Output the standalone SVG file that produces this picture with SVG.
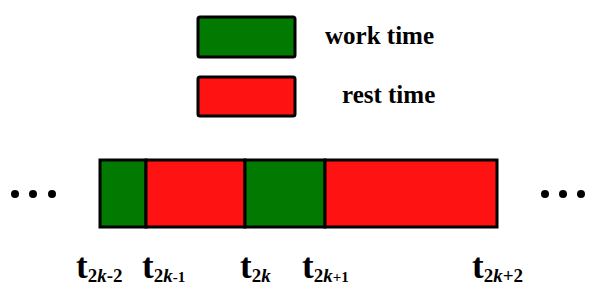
<svg xmlns="http://www.w3.org/2000/svg" width="608" height="297" viewBox="0 0 608 297">
<style>
.g{fill:#027A02;stroke:#000;stroke-width:3}
.r{fill:#FF1212;stroke:#000;stroke-width:3}
.lbl{font-family:"Liberation Serif","Times New Roman",serif;font-weight:bold;fill:#000}
.t{font-family:"Liberation Serif","Times New Roman",serif;font-weight:bold;font-size:35px;fill:#000}
.s{font-size:19px}
.d{fill:#000}
</style>
<rect width="608" height="297" fill="#fff"/>
<g id="legend-work">
<rect class="g" x="198" y="17" width="97" height="40" rx="2"/>
<text class="lbl" x="325" y="44" font-size="25">work time</text>
</g>
<g id="legend-rest">
<rect class="r" x="198" y="77" width="97" height="39" rx="2"/>
<text class="lbl" x="342" y="103" font-size="25">rest time</text>
</g>
<g id="timeline">
<rect x="100" y="160" width="397" height="67" rx="2" fill="#000"/>
<rect class="g" x="100" y="160" width="46" height="67"/>
<rect class="r" x="146" y="160" width="99" height="67"/>
<rect class="g" x="245" y="160" width="80" height="67"/>
<rect class="r" x="325" y="160" width="172" height="67"/>
</g>
<g id="dots-left">
<circle class="d" cx="15" cy="194" r="4"/>
<circle class="d" cx="33" cy="194" r="4"/>
<circle class="d" cx="52" cy="194" r="4"/>
</g>
<g id="dots-right">
<circle class="d" cx="545" cy="194" r="4"/>
<circle class="d" cx="563" cy="194" r="4"/>
<circle class="d" cx="581" cy="194" r="4"/>
</g>
<g id="labels">
<text class="t" x="76" y="278">t<tspan class="s" dy="4">2<tspan font-style="italic">k</tspan>-2</tspan></text>
<text class="t" x="142" y="278">t<tspan class="s" dy="4">2<tspan font-style="italic">k</tspan><tspan font-size="15">-1</tspan></tspan></text>
<text class="t" x="240" y="278">t<tspan class="s" dy="4">2<tspan font-style="italic">k</tspan></tspan></text>
<text class="t" x="302" y="278">t<tspan class="s" dy="4">2<tspan font-style="italic">k</tspan><tspan font-size="15">+1</tspan></tspan></text>
<text class="t" x="472" y="278">t<tspan class="s" dy="4">2<tspan font-style="italic">k</tspan>+2</tspan></text>
</g>
</svg>
